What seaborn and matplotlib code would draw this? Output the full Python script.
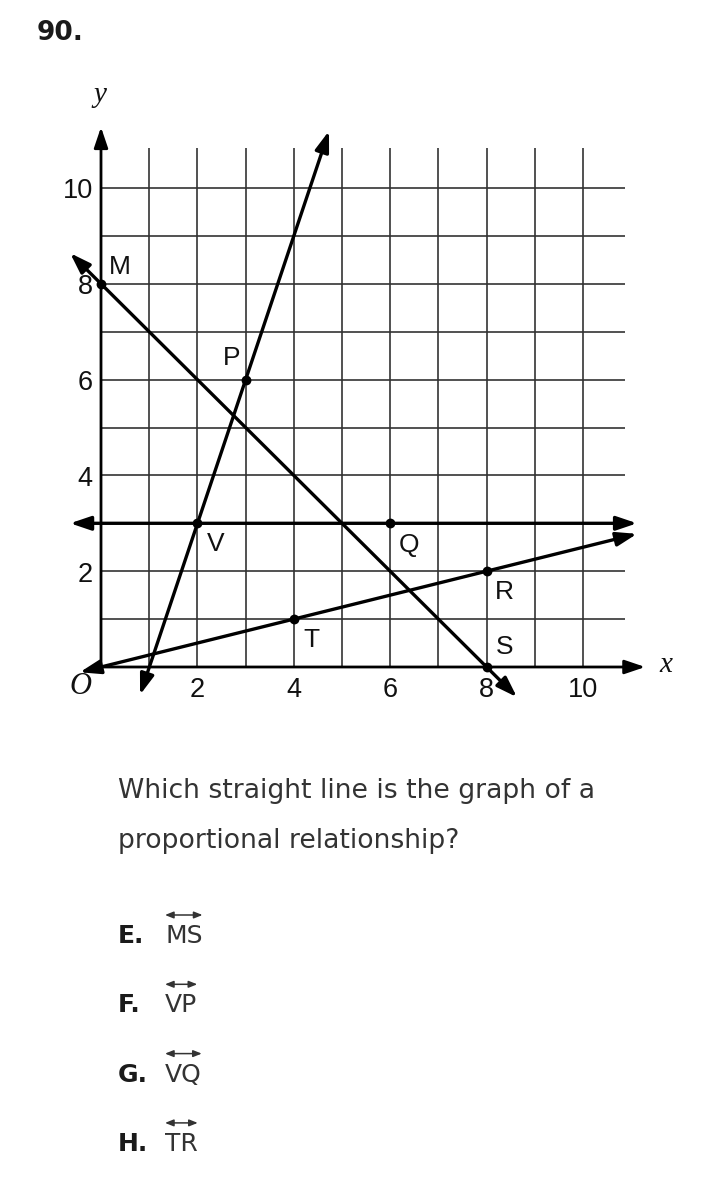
import matplotlib
matplotlib.use("Agg")
import matplotlib.pyplot as plt
import seaborn as sns
import pandas as pd
import numpy as np

sns.set_theme(style="white")
plt.rcParams['font.family'] = ['Liberation Sans', 'DejaVu Sans']

# ---------------- data ----------------
point_names = ["M", "P", "V", "Q", "R", "T", "S"]
point_x = [0, 3, 2, 6, 8, 4, 8]
point_y = [8, 6, 3, 3, 2, 1, 0]
label_x = [0.39, 2.72, 2.39, 6.39, 8.36, 4.36, 8.38]
label_y = [8.35, 6.45, 2.57, 2.55, 1.57, 0.56, 0.42]

line_names = ["MS", "VP", "VQ", "TR"]
line_x0 = [-0.64, 0.81, -0.64, -0.44]
line_y0 = [8.64, -0.58, 3.0, -0.11]
line_x1 = [8.63, 4.73, 11.12, 11.12]
line_y1 = [-0.63, 11.19, 3.0, 2.78]

x_ticks = [2, 4, 6, 8, 10]
y_ticks = [2, 4, 6, 8, 10]
grid_vals = list(range(1, 11))

question_no = "90."
question_lines = ["Which straight line is the graph of a", "proportional relationship?"]
choice_letters = ["E.", "F.", "G.", "H."]
choice_lines = ["MS", "VP", "VQ", "TR"]

# ---------------- figure ----------------
W, H = 706, 1190
fig = plt.figure(figsize=(W / 100, H / 100), dpi=100)
fig.patch.set_facecolor("white")

# data axes covering the whole figure: px = 101 + 48.2*x ; py = 667 - 47.9*y
ux, uy = 48.2, 47.9
ox, oy = 101, 667
ax = fig.add_axes([0, 0, 1, 1])

gcol = "#333333"
ax.vlines(grid_vals, 0, 10.84, color=gcol, lw=1.2, zorder=1)
ax.hlines(grid_vals, 0, 10.87, color=gcol, lw=1.2, zorder=1)

astyle = "-|>,head_length=0.62,head_width=0.21"
# axes with arrows
ax.annotate("", xy=(11.29, 0), xytext=(0, 0),
            arrowprops=dict(arrowstyle=astyle, color="black", lw=2.0,
                            mutation_scale=20, shrinkA=0, shrinkB=0), zorder=3)
ax.annotate("", xy=(0, 11.27), xytext=(0, 0),
            arrowprops=dict(arrowstyle=astyle, color="black", lw=2.0,
                            mutation_scale=20, shrinkA=0, shrinkB=0), zorder=3)

# the four lines
dstyle = "<|-|>,head_length=0.62,head_width=0.21"
for x0, y0, x1, y1 in zip(line_x0, line_y0, line_x1, line_y1):
    ax.annotate("", xy=(x1, y1), xytext=(x0, y0),
                arrowprops=dict(arrowstyle=dstyle, color="black", lw=2.4,
                                mutation_scale=20, shrinkA=0, shrinkB=0), zorder=4)

# points
pts = pd.DataFrame({"name": point_names, "x": point_x, "y": point_y})
sns.scatterplot(data=pts, x="x", y="y", ax=ax, color="black", s=50,
                edgecolor="black", linewidth=0, zorder=5, legend=False)
ax.set_xlim(-ox / ux, (W - ox) / ux)
ax.set_ylim((oy - H) / uy, oy / uy)
ax.axis("off")

for n, lx, ly in zip(point_names, label_x, label_y):
    ax.text(lx, ly, n, fontsize=19, ha="center", va="center", color="#111111", zorder=6)

# tick labels
for t in x_ticks:
    ax.text(t, -0.48, str(t), fontsize=19.5, ha="center", va="center", color="#111111")
for t in y_ticks:
    ax.text(-0.17, t - 0.07, str(t), fontsize=19.5, ha="right", va="center", color="#111111")

serif = ["Liberation Serif", "DejaVu Serif"]
ax.text(-0.42, -0.4, "O", fontsize=22, style="italic", family=serif,
        ha="center", va="center", color="#111111")
ax.text(-0.02, 11.95, "y", fontsize=21, style="italic", family=serif,
        ha="center", va="center", color="#111111")
ax.text(11.72, 0.05, "x", fontsize=21, style="italic", family=serif,
        ha="center", va="center", color="#111111")

# ---------------- text below ----------------
def fy(py):
    return 1 - py / H

def fx(px):
    return px / W

fig.text(fx(37), fy(33), question_no, fontsize=19, fontweight="bold",
         family=["DejaVu Sans"], ha="left", va="center", color="#1a1a1a")

txt_col = "#333333"
for i, s in enumerate(question_lines):
    fig.text(fx(118), fy(798 + 50 * i), s, fontsize=19.2, family=["DejaVu Sans"],
             ha="left", va="baseline", color=txt_col)

fig.canvas.draw()
renderer = fig.canvas.get_renderer()
for i, (let, nm) in enumerate(zip(choice_letters, choice_lines)):
    base = 943 + 69.3 * i
    fig.text(fx(118), fy(base), let, fontsize=18, fontweight="bold",
             family=["DejaVu Sans"], ha="left", va="baseline", color="#1a1a1a")
    t = fig.text(fx(165), fy(base), nm, fontsize=18, family=["DejaVu Sans"],
                 ha="left", va="baseline", color=txt_col)
    bb = t.get_window_extent(renderer=renderer)
    ya = H - (base - 28)
    fig.patches.append(matplotlib.patches.FancyArrowPatch(
        (bb.x0, ya), (bb.x1, ya), transform=None,
        arrowstyle="<|-|>,head_length=0.5,head_width=0.2", mutation_scale=10,
        color="#333333", lw=1.1, shrinkA=0, shrinkB=0))

fig.savefig("out.png", dpi=100, facecolor="white")
